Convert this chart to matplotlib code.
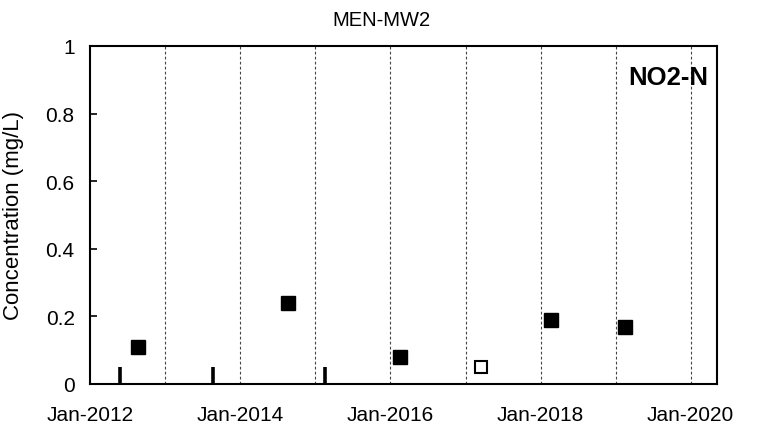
import matplotlib
matplotlib.use("Agg")
import matplotlib.pyplot as plt
import matplotlib.dates as mdates
import numpy as np
from datetime import datetime

plt.rcParams['font.family'] = ['Liberation Sans', 'DejaVu Sans']

# detected results (mg/L)
det_dates = [datetime(2012, 8, 20), datetime(2014, 8, 20), datetime(2016, 2, 15),
             datetime(2018, 2, 20), datetime(2019, 2, 15)]
det_vals = [0.11, 0.24, 0.08, 0.19, 0.17]

# open marker result
open_dates = [datetime(2017, 3, 15)]
open_vals = [0.05]

# non-detects, drawn as bars up to the reporting limit
nd_dates = [datetime(2012, 5, 25), datetime(2013, 8, 22), datetime(2015, 2, 15)]
nd_vals = [0.05, 0.05, 0.05]

grid_years = list(range(2013, 2021))
tick_years = [2012, 2014, 2016, 2018, 2020]

fig = plt.figure(figsize=(7.59, 4.35), dpi=100)
ax = fig.add_axes([90/759, 1-385/435, (717-90)/759, (385-47)/435])

for y in grid_years:
    ax.axvline(datetime(y, 1, 1), color='#444444', lw=0.8, ls=(0, (2.5, 2)), zorder=1)

ax.vlines(nd_dates, 0, nd_vals, color='black', lw=2.6, zorder=3)
ax.plot(det_dates, det_vals, 's', ms=10, color='black', zorder=4)
ax.plot(open_dates, open_vals, 's', ms=9, mfc='white', mec='black', mew=1.5, zorder=4)

ax.set_xlim(datetime(2012, 1, 1), datetime(2020, 5, 8))
ax.set_ylim(0, 1)
ax.set_yticks(np.arange(0, 1.01, 0.2))
ax.set_yticklabels(['0', '0.2', '0.4', '0.6', '0.8', '1'])
ax.set_xticks([datetime(y, 1, 1) for y in tick_years])
ax.xaxis.set_major_formatter(mdates.DateFormatter('%b-%Y'))
ax.tick_params(axis='y', direction='in', length=5, width=1.2, labelsize=15, pad=11)
ax.tick_params(axis='x', length=0, labelsize=15, pad=15)
for s in ax.spines.values():
    s.set_linewidth(1.5)

ax.set_ylabel('Concentration (mg/L)', fontsize=16)
ax.yaxis.set_label_coords(-0.105, 0.5)
ax.text(0.9856, 0.908, 'NO2-N', transform=ax.transAxes, ha='right', va='center',
        fontsize=18.5, fontweight='bold')
fig.text(381/759, 1-20/435, 'MEN-MW2', ha='center', va='center', fontsize=14.5)

fig.savefig('out.png', dpi=100)
